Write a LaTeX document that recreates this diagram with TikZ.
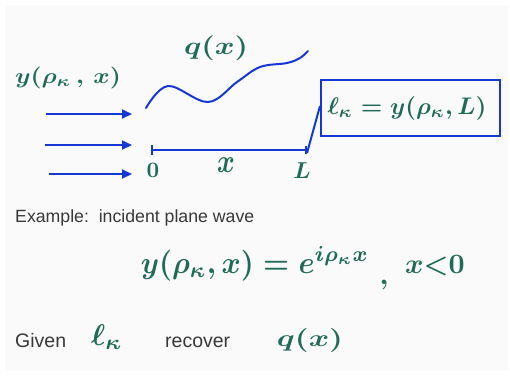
\documentclass[tikz,border=0pt]{standalone}
\usepackage{fontspec}
\setmainfont{Liberation Sans}
\usepackage{graphicx}
\usetikzlibrary{arrows.meta}
\definecolor{ink}{HTML}{1F6B57}
\definecolor{pen}{HTML}{1537D6}
\definecolor{txt}{HTML}{383838}
\definecolor{paper}{HTML}{FAFAFA}
\begin{document}
\begin{tikzpicture}[x=1pt,y=-1pt,
  hand/.style={text=ink, inner sep=0pt, anchor=base, font=\boldmath},
  plain/.style={text=txt, inner sep=0pt, anchor=base west},
  wire/.style={draw=pen, line width=2pt},
  incoming/.style={wire, -{Triangle[length=10pt,width=9pt]}},
  axisline/.style={wire, {Bar[width=10pt,line width=2pt]}-{Bar[width=8pt,line width=2pt]}}]
\useasboundingbox (0,0) rectangle (510,376);
\fill[paper] (5,5) rectangle (508,371);

% incoming waves
\coordinate (a1s) at (46,114); \coordinate (a1e) at (132,114);
\coordinate (a2s) at (45,145); \coordinate (a2e) at (132,145);
\coordinate (a3s) at (49,174); \coordinate (a3e) at (132,174);
\draw[incoming] (a1s) -- (a1e);
\draw[incoming] (a2s) -- (a2e);
\draw[incoming] (a3s) -- (a3e);

% potential curve
\draw[wire, line cap=round] plot[smooth, tension=0.6] coordinates
  {(146,108) (168,86) (208,102) (237,82) (260,67) (287,63) (300,58) (308,51)};

% axis
\coordinate (o0) at (151,150);
\coordinate (oL) at (307,150);
\draw[axisline] (o0) -- (oL);

% box
\node[draw=pen, line width=2pt, minimum width=179pt, minimum height=56pt, inner sep=0pt] (box) at (410.5,108) {};
\node[hand] (boxtext) at (407,114) {\scalebox{2.42}[2.4]{$\ell_\kappa = y(\rho_\kappa, L)$}};
\draw[wire] ([yshift=-3pt]oL) -- ([yshift=2pt]box.west);

% labels near sketch
\node[hand] (qtop) at (216,54) {\scalebox{3.0}[2.5]{$q(x)$}};
\node[hand] (ytop) at (68,83) {\scalebox{2.48}[2.2]{$y(\rho_\kappa\,,\,x)$}};
\node[hand] (lab0) at (153,177) {\scalebox{2.2}{$0$}};
\node[hand] (labx) at (226,172) {\scalebox{2.7}[3.3]{$x$}};
\node[hand] (labL) at (302,178) {\scalebox{2.3}{$L$}};

% example text
\node[plain, font=\fontsize{17.7}{20}\selectfont] (example) at (15,222) {Example:\ \ incident plane wave};
\node[hand] (eq) at (255,273) {\scalebox{2.91}[3.1]{$y(\rho_\kappa, x) = e^{i\rho_\kappa x}$}};
\node[hand] (comma) at (384,284) {\scalebox{2.8}{$,$}};
\node[hand] (cond) at (435,273) {\scalebox{2.8}[2.8]{$x{<}0$}};

% given / recover
\node[plain, font=\fontsize{19.5}{22}\selectfont] (given) at (15,347) {Given};
\node[hand] (ellk) at (107,345) {\scalebox{3.0}{$\ell_\kappa$}};
\node[plain, font=\fontsize{19.5}{22}\selectfont] (recover) at (165,347) {recover};
\node[hand] (qbot) at (310,346) {\scalebox{3.1}[2.4]{$q(x)$}};
\end{tikzpicture}
\end{document}
